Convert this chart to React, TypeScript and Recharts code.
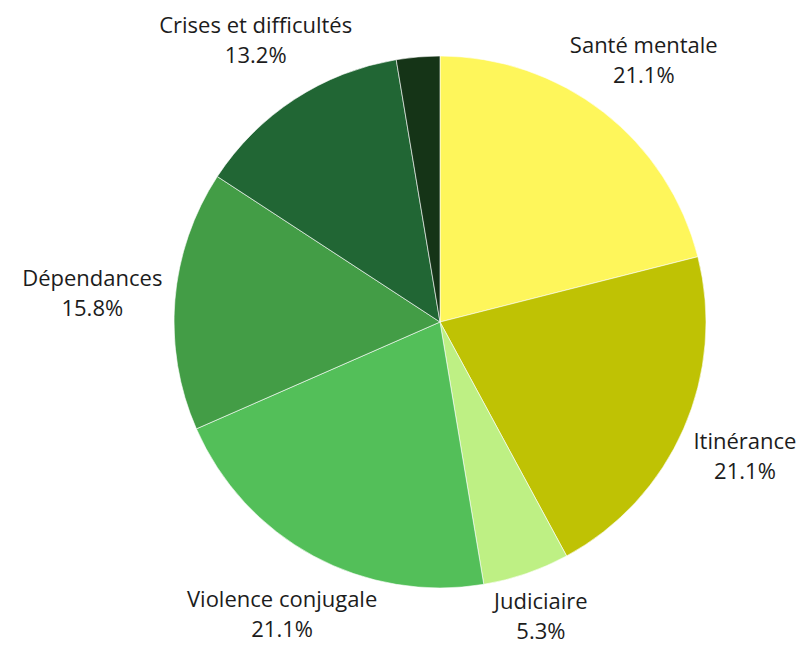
import { PieChart, Pie, Cell } from 'recharts';

const categories = [
    'Santé mentale',
    'Itinérance',
    'Judiciaire',
    'Violence conjugale',
    'Dépendances',
    'Crises et difficultés',
    'Autre',
];
const counts = [8, 8, 2, 8, 6, 5, 1];
const colors = ['#FEF65B', '#BFC204', '#BEF084', '#53BF59', '#439D46', '#216634', '#153417'];

const FONT = "'Open Sans', sans-serif";
const FONT_SIZE = 22;
const RAD = Math.PI / 180;

const data = categories.map((name, i) => ({ name, value: counts[i] }));

let ctx: CanvasRenderingContext2D | null = null;
const textWidth = (s: string) => {
    if (!ctx) ctx = document.createElement('canvas').getContext('2d');
    if (!ctx) return s.length * 10;
    ctx.font = `${FONT_SIZE}px ${FONT}`;
    return ctx.measureText(s).width;
};

const renderLabel = (props: any) => {
    const { cx, cy, midAngle, percent, name } = props;
    // tiny slice has no label
    if (percent < 0.04) return null;
    const cos = Math.cos(-midAngle * RAD);
    const sin = Math.sin(-midAngle * RAD);
    const r = 300 + 0.35 * Math.abs(cos) * textWidth(name);
    const x = cx + r * cos;
    const y = cy + r * sin;
    return (
        <text
            x={x}
            y={y}
            textAnchor="middle"
            fill="#1c1c1c"
            fontFamily={FONT}
            fontSize={FONT_SIZE}
        >
            <tspan x={x} dy={-7}>{name}</tspan>
            <tspan x={x} dy={30}>{(percent * 100).toFixed(1)}%</tspan>
        </text>
    );
};

export default function App() {
    return (
        <div style={{ position: 'absolute', left: 0, top: 0, background: '#fff' }}>
            <PieChart width={803} height={647}>
                <Pie
                    data={data}
                    dataKey="value"
                    nameKey="name"
                    cx={435}
                    cy={317}
                    outerRadius={266}
                    startAngle={90}
                    endAngle={-270}
                    stroke="#ffffff"
                    strokeWidth={0.6}
                    label={renderLabel}
                    labelLine={false}
                    isAnimationActive={false}
                >
                    {data.map((d, i) => (
                        <Cell key={d.name} fill={colors[i]} />
                    ))}
                </Pie>
            </PieChart>
        </div>
    );
}
